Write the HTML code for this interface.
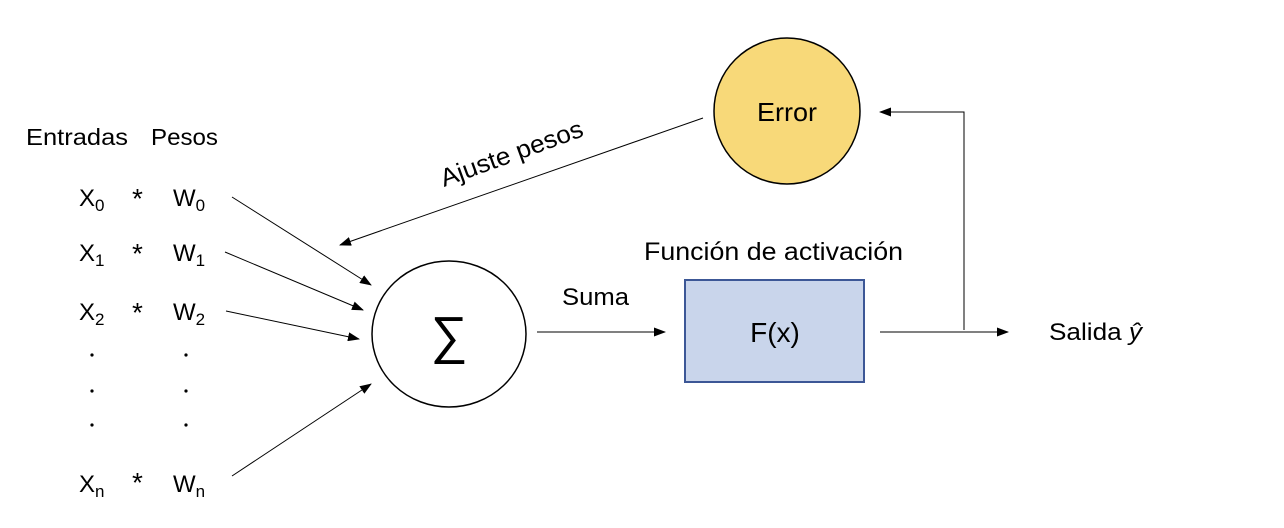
<!DOCTYPE html>
<html><head><meta charset="utf-8"><style>
html,body{margin:0;padding:0;background:#fff;}
svg{display:block}
text{font-family:"Liberation Sans",sans-serif;fill:#000;}
</style></head><body>
<svg width="1284" height="528" viewBox="0 0 1284 528" xmlns="http://www.w3.org/2000/svg">
<defs><marker id="a" markerWidth="12" markerHeight="9" refX="11" refY="4.5" orient="auto" markerUnits="userSpaceOnUse"><path d="M0,0 L12,4.5 L0,9 z" fill="#000"/></marker></defs>
<text x="26" y="145" font-size="23" textLength="102" lengthAdjust="spacingAndGlyphs">Entradas</text>
<text x="151" y="145" font-size="23" textLength="67" lengthAdjust="spacingAndGlyphs">Pesos</text>
<g font-size="24">
<text x="79" y="206">X<tspan font-size="17" dy="5">0</tspan></text>
<text x="79" y="261">X<tspan font-size="17" dy="5">1</tspan></text>
<text x="79" y="320">X<tspan font-size="17" dy="5">2</tspan></text>
<text x="79" y="492">X<tspan font-size="17" dy="5">n</tspan></text>
<text x="173" y="206">W<tspan font-size="17" dy="5">0</tspan></text>
<text x="173" y="261">W<tspan font-size="17" dy="5">1</tspan></text>
<text x="173" y="320">W<tspan font-size="17" dy="5">2</tspan></text>
<text x="173" y="492">W<tspan font-size="17" dy="5">n</tspan></text>
</g>
<g font-size="28"><text x="132" y="208">*</text><text x="132" y="263">*</text><text x="132" y="322">*</text><text x="132" y="492">*</text></g>
<g fill="#000"><circle cx="92" cy="355" r="1.6"/><circle cx="92" cy="391" r="1.6"/><circle cx="92" cy="425" r="1.6"/>
<circle cx="186" cy="355" r="1.6"/><circle cx="186" cy="391" r="1.6"/><circle cx="186" cy="425" r="1.6"/></g>
<g stroke="#000" stroke-width="1" marker-end="url(#a)">
<line x1="232" y1="197" x2="371" y2="285"/>
<line x1="225" y1="252" x2="363" y2="310"/>
<line x1="226" y1="311" x2="359" y2="339"/>
<line x1="232" y1="476" x2="371" y2="384"/>
<line x1="703" y1="118" x2="340" y2="245"/>
<line x1="537" y1="332" x2="665" y2="332"/>
<line x1="880" y1="332" x2="1008" y2="332"/>
<polyline points="964,330 964,112 880,112" fill="none"/>
</g>
<ellipse cx="449" cy="334" rx="77" ry="73" fill="#fff" stroke="#000" stroke-width="1.5"/>
<text x="449" y="353" font-size="52" text-anchor="middle" font-family="DejaVu Serif,serif">∑</text>
<circle cx="787" cy="111" r="73" fill="#f8d979" stroke="#000" stroke-width="1.5"/>
<text x="787" y="121" font-size="26" text-anchor="middle" textLength="60" lengthAdjust="spacingAndGlyphs">Error</text>
<rect x="685" y="280" width="179" height="102" fill="#c9d5eb" stroke="#3c5796" stroke-width="2"/>
<text x="775" y="342" font-size="28" text-anchor="middle" font-family="Liberation Serif,serif">F(x)</text>
<text x="644" y="260" font-size="25" textLength="259" lengthAdjust="spacingAndGlyphs">Función de activación</text>
<text x="562" y="305" font-size="24" textLength="67" lengthAdjust="spacingAndGlyphs">Suma</text>
<text x="1049" y="340" font-size="24" textLength="93" lengthAdjust="spacingAndGlyphs">Salida <tspan font-style="italic">ŷ</tspan></text>
<text x="0" y="0" font-size="25" textLength="150" lengthAdjust="spacingAndGlyphs" transform="translate(444,187) rotate(-20)">Ajuste pesos</text>
</svg>
</body></html>
